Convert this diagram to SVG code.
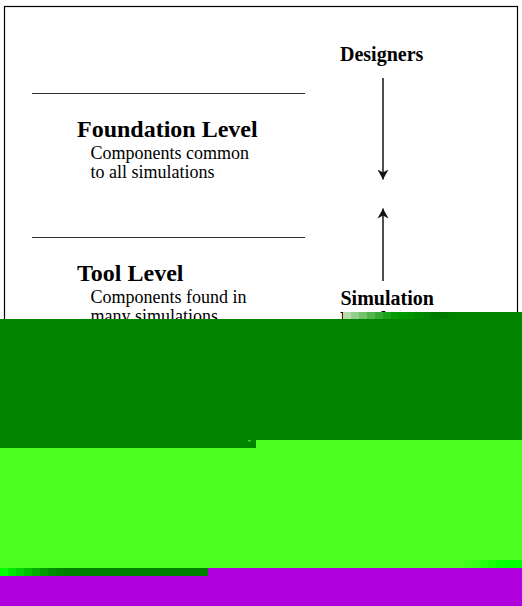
<svg xmlns="http://www.w3.org/2000/svg" width="522" height="606" viewBox="0 0 522 606">
<style>
.h{font-family:"Liberation Serif","Times New Roman",serif;font-weight:bold;fill:#000}
.lab{font-size:20px}
.big{font-size:24px}
.t{font-family:"Liberation Serif","Times New Roman",serif;font-size:18px;fill:#000}
.sep{stroke:#333;stroke-width:1}
.arr{stroke:#222;stroke-width:1.6;fill:none;marker-end:url(#ah)}
</style>
<defs>
<marker id="ah" markerUnits="userSpaceOnUse" markerWidth="12" markerHeight="12" refX="10" refY="6" orient="auto">
<path d="M0,0.5 L10,6 L0,11.5 L3,6 z" fill="#111"/>
</marker>
</defs>
<rect x="0" y="0" width="522" height="606" fill="#fff"/>
<rect x="4.5" y="6.5" width="513" height="560" fill="none" stroke="#000" stroke-width="1.2"/>
<line class="sep" x1="32" y1="93.5" x2="305" y2="93.5"/>
<line class="sep" x1="32" y1="237.5" x2="305" y2="237.5"/>
<g id="designers"><text class="h lab" x="340" y="60.5">Designers</text></g>
<g id="foundation">
<text class="h big" x="77" y="136.5">Foundation Level</text>
<text class="t" x="90.5" y="158.5">Components common</text>
<text class="t" x="90.5" y="178">to all simulations</text>
</g>
<g id="tool">
<text class="h big" x="77" y="281">Tool Level</text>
<text class="t" x="90.5" y="302.5">Components found in</text>
<text class="t" x="90.5" y="322">many simulations</text>
</g>
<g id="simulation">
<text class="h lab" x="340.5" y="304.5">Simulation</text>
<text class="h lab" x="340" y="326">Level</text>
</g>
<g id="connectors">
<line class="arr" x1="383" y1="78" x2="383" y2="179.5"/>
<line class="arr" x1="383" y1="281" x2="383" y2="208.5"/>
</g>
<g id="overlay">
<rect x="343" y="312" width="179" height="8" fill="#008400"/>
<rect x="343" y="312" width="8" height="8" fill="#b4dcac"/>
<rect x="351" y="312" width="8" height="8" fill="#92cf8a"/>
<rect x="359" y="312" width="8" height="8" fill="#72c26a"/>
<rect x="367" y="312" width="8" height="8" fill="#52b44c"/>
<rect x="375" y="312" width="8" height="8" fill="#34aa32"/>
<rect x="383" y="312" width="8" height="8" fill="#1aa21a"/>
<rect x="391" y="312" width="8" height="8" fill="#069c06"/>
<rect x="399" y="312" width="8" height="8" fill="#009800"/>
<rect x="407" y="312" width="8" height="8" fill="#009200"/>
<rect x="415" y="312" width="8" height="8" fill="#008c00"/>
<rect x="423" y="312" width="8" height="8" fill="#008600"/>
<rect x="431" y="312" width="8" height="8" fill="#007c00"/>
<rect x="439" y="312" width="8" height="8" fill="#007a00"/>
<rect x="447" y="312" width="8" height="8" fill="#008000"/>
<rect x="0" y="319" width="522" height="121" fill="#008400"/>
<rect x="0" y="440" width="256" height="8" fill="#008400"/>
<rect x="256" y="440" width="266" height="128" fill="#4cff1f"/>
<rect x="0" y="448" width="256" height="120" fill="#4cff1f"/>
<rect x="248" y="440" width="1" height="1" fill="#4cff1f"/>
<rect x="250" y="440" width="1" height="1" fill="#4cff1f"/>
<rect x="249" y="441" width="1" height="1" fill="#4cff1f"/>
<rect x="464" y="560" width="8" height="8" fill="#40ff1a"/>
<rect x="472" y="560" width="8" height="8" fill="#34ff14"/>
<rect x="480" y="560" width="8" height="8" fill="#26ff0e"/>
<rect x="488" y="560" width="8" height="8" fill="#18ff08"/>
<rect x="496" y="560" width="8" height="8" fill="#0aff03"/>
<rect x="504" y="560" width="18" height="8" fill="#00ff00"/>
<rect x="0" y="568" width="208" height="8" fill="#008000"/>
<rect x="0" y="568" width="8" height="8" fill="#00ff00"/>
<rect x="8" y="568" width="8" height="8" fill="#00e800"/>
<rect x="16" y="568" width="8" height="8" fill="#00d400"/>
<rect x="24" y="568" width="8" height="8" fill="#00c000"/>
<rect x="32" y="568" width="8" height="8" fill="#00ae00"/>
<rect x="40" y="568" width="8" height="8" fill="#009c00"/>
<rect x="48" y="568" width="8" height="8" fill="#008c00"/>
<rect x="56" y="568" width="8" height="8" fill="#008400"/>
<rect x="208" y="568" width="314" height="38" fill="#b000de"/>
<rect x="0" y="576" width="208" height="30" fill="#b000de"/>
</g>
</svg>
